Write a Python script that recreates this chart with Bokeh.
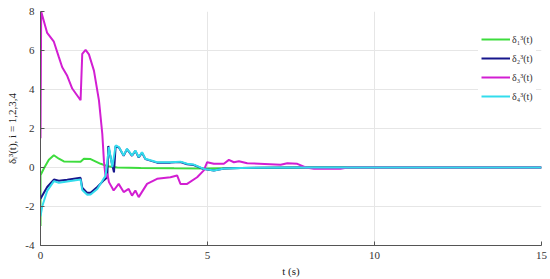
from bokeh.plotting import figure
from bokeh.models import Range1d, Legend, LegendItem, FixedTicker, PrintfTickFormatter
from bokeh.embed import file_html
from bokeh.resources import INLINE

# ---- data ----
t1 = [0, 0.0, 0.1, 0.25, 0.4, 0.55, 0.7, 1.2, 1.3, 1.5, 1.8, 2.0, 2.3, 3.0, 4.0, 5.0, 6.0, 8.0, 15.0]
d1 = [-3.0, -0.4, -0.05, 0.4, 0.63, 0.45, 0.31, 0.3, 0.45, 0.43, 0.19, 0.07, 0.0, -0.02, -0.04, -0.05, -0.03, 0.0, 0.0]

t2 = [0, 0.05, 0.2, 0.4, 0.55, 0.8, 1.2, 1.25, 1.4, 1.5, 1.7, 1.9, 2.0, 2.03, 2.1, 2.2, 2.25, 2.35, 2.49, 2.59,
      2.74, 2.84, 2.94, 3.04, 3.14, 3.49, 3.89, 4.19, 4.39, 4.59, 4.89, 5.19, 5.5, 6.0, 8.0, 15.0]
d2 = [-1.6, -1.45, -1.0, -0.62, -0.68, -0.63, -0.53, -1.04, -1.3, -1.3, -1.0, -0.65, -0.5, 1.1, 0.5, -0.25, 1.1, 1.02,
      0.6, 0.94, 0.6, 0.85, 0.51, 0.76, 0.43, 0.25, 0.25, 0.28, 0.17, 0.13, -0.08, -0.15, -0.05, -0.02, 0.0, 0.0]

t3 = [0, 0.02, 0.2, 0.4, 0.55, 0.65, 0.8, 0.95, 1.2, 1.25, 1.35, 1.45, 1.6, 1.75, 1.85, 1.9, 1.95, 2.0, 2.05, 2.19,
      2.34, 2.49, 2.64, 2.74, 2.84, 2.94, 3.19, 3.49, 3.89, 4.09, 4.19, 4.39, 4.69, 4.89, 4.99, 5.19, 5.49, 5.64,
      5.79, 5.94, 6.19, 7.19, 7.39, 7.69, 7.94, 8.19, 8.98, 9.2, 15.0]
d3 = [1.5, 8.0, 6.9, 6.45, 5.66, 5.14, 4.7, 4.05, 3.45, 5.83, 6.03, 5.8, 4.97, 3.44, 1.73, 0.3, -0.5, -0.32, -0.75,
      -1.18, -0.84, -1.26, -1.1, -1.44, -1.18, -1.52, -0.84, -0.58, -0.5, -0.41, -0.84, -0.84, -0.5, -0.15, 0.27,
      0.19, 0.19, 0.39, 0.27, 0.32, 0.22, 0.14, 0.22, 0.19, 0.0, -0.07, -0.07, 0.0, 0.0]

t4 = [0, 0.05, 0.2, 0.4, 0.55, 0.8, 1.2, 1.25, 1.4, 1.5, 1.7, 1.95, 2.05, 2.15, 2.25, 2.35, 2.49, 2.59, 2.74, 2.84,
      2.94, 3.04, 3.14, 3.49, 3.89, 4.19, 4.39, 4.59, 4.89, 5.19, 5.5, 6.0, 8.0, 15.0]
d4 = [-2.5, -2.0, -1.2, -0.7, -0.78, -0.72, -0.62, -1.15, -1.4, -1.38, -1.1, -0.41, 1.04, 0.02, 1.13, 1.04, 0.62,
      0.96, 0.62, 0.87, 0.53, 0.78, 0.45, 0.27, 0.27, 0.3, 0.19, 0.15, -0.07, -0.15, -0.05, -0.02, 0.0, 0.0]

labels = ["δ₁³(t)", "δ₂³(t)", "δ₃³(t)", "δ₄³(t)"]
colors = ["#3ddc3d", "#16168c", "#d21ed2", "#33dcec"]
x_ticks = [0, 5, 10, 15]
y_ticks = [-4, -2, 0, 2, 4, 6, 8]

FONT = "Liberation Serif"

p = figure(width=550, height=279, x_range=Range1d(0, 15), y_range=Range1d(-4, 8),
           output_backend="svg", toolbar_location=None,
           min_border_left=40, min_border_right=9, min_border_top=11, min_border_bottom=34)
p.outline_line_color = None
p.background_fill_color = "white"

renderers = []
for t, d, c in zip([t1, t2, t3, t4], [d1, d2, d3, d4], colors):
    r = p.line(t, d, line_color=c, line_width=2)
    renderers.append(r)

for ax in (p.xaxis[0], p.yaxis[0]):
    ax.axis_line_color = "#555555"
    ax.major_tick_line_color = "#555555"
    ax.major_tick_in = 4
    ax.major_tick_out = 0
    ax.minor_tick_line_color = None
    ax.major_label_text_font = FONT
    ax.major_label_text_font_size = "11px"
    ax.major_label_text_color = "#333333"
    ax.axis_label_text_font = FONT
    ax.axis_label_text_font_size = "11px"
    ax.axis_label_text_font_style = "normal"
    ax.axis_label_text_color = "#222222"
    ax.formatter = PrintfTickFormatter(format="%d")

p.xaxis[0].ticker = FixedTicker(ticks=x_ticks)
p.yaxis[0].ticker = FixedTicker(ticks=y_ticks)
p.xaxis[0].axis_label = "t (s)"
p.yaxis[0].axis_label = "δᵢ³(t), i = 1,2,3,4"
p.xaxis[0].major_label_standoff = 6
p.xaxis[0].axis_label_standoff = 3
p.yaxis[0].major_label_standoff = 6
p.yaxis[0].axis_label_standoff = 4

p.xgrid.grid_line_color = "#e6e6e6"
p.ygrid.grid_line_color = "#e6e6e6"
p.xgrid.ticker = FixedTicker(ticks=x_ticks)
p.ygrid.ticker = FixedTicker(ticks=y_ticks)

legend = Legend(items=[LegendItem(label=l, renderers=[r]) for l, r in zip(labels, renderers)],
                location=(438, 137), border_line_alpha=0, background_fill_color="white",
                background_fill_alpha=1.0, label_text_font=FONT, label_text_font_size="10px",
                label_text_color="#333333", glyph_width=29, glyph_height=18, label_height=18,
                spacing=1, padding=3, margin=0, label_standoff=2)
p.add_layout(legend, "center")

open("out.html", "w").write(file_html(p, INLINE))
